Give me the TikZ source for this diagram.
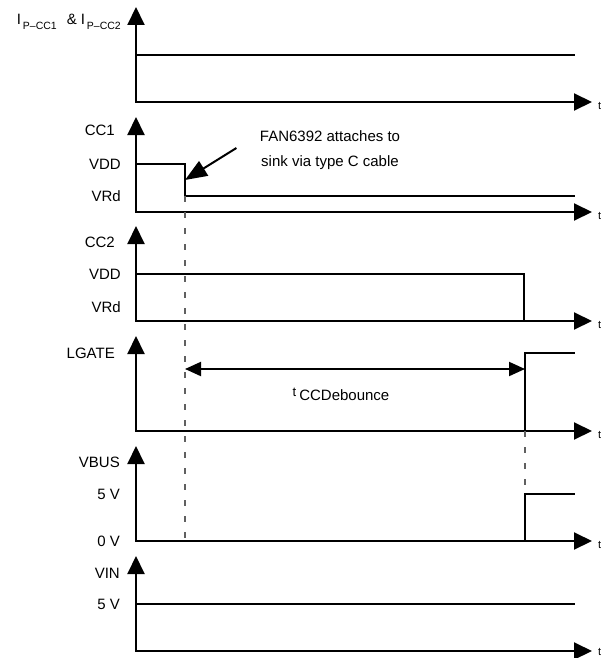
\documentclass[tikz,border=0pt]{standalone}
\usepackage{fontspec}
\setmainfont{Liberation Sans}
\usetikzlibrary{arrows.meta,calc}
\newcommand{\lowtxt}[1]{\raisebox{-5pt}{\fontsize{10.5}{10.5}\selectfont #1}}

\begin{document}
\begin{tikzpicture}[
        x=1pt, y=-1pt,
        font=\fontsize{15}{18}\selectfont,
        axis/.style={line width=2pt, {Triangle[length=18pt,width=17pt]}-{Triangle[length=18pt,width=17pt]}},
        wave/.style={line width=2pt},
        guide/.style={line width=1.5pt, gray!75!black, dash pattern=on 6pt off 10pt},
        lbl/.style={anchor=east, inner sep=0pt},
        tlbl/.style={anchor=west, inner sep=0pt, font=\fontsize{11}{12}\selectfont},
        pointer/.style={line width=2pt, -{Triangle[length=22pt,width=17pt]}},
        span/.style={line width=2pt, {Triangle[length=16pt,width=14pt]}-{Triangle[length=16pt,width=14pt]}}
    ]
        \useasboundingbox (0,0) rectangle (608,658);

        % Axes: top tip, origin, right tip
        \coordinate (y1) at (136,7);   \coordinate (o1) at (136,102); \coordinate (t1) at (592,102);
        \coordinate (y2) at (136,117); \coordinate (o2) at (136,212); \coordinate (t2) at (592,212);
        \coordinate (y3) at (136,226); \coordinate (o3) at (136,321); \coordinate (t3) at (592,321);
        \coordinate (y4) at (136,336); \coordinate (o4) at (136,431); \coordinate (t4) at (592,431);
        \coordinate (y5) at (136,446); \coordinate (o5) at (136,541); \coordinate (t5) at (592,541);
        \coordinate (y6) at (136,556); \coordinate (o6) at (136,651); \coordinate (t6) at (592,651);

        \draw[axis] (y1) -- (o1) -- (t1);
        \draw[axis] (y2) -- (o2) -- (t2);
        \draw[axis] (y3) -- (o3) -- (t3);
        \draw[axis] (y4) -- (o4) -- (t4);
        \draw[axis] (y5) -- (o5) -- (t5);
        \draw[axis] (y6) -- (o6) -- (t6);

        % Time labels
        \node[tlbl] at ([shift={(6,4)}]t1) {t};
        \node[tlbl] at ([shift={(6,4)}]t2) {t};
        \node[tlbl] at ([shift={(6,4)}]t3) {t};
        \node[tlbl] at ([shift={(6,4)}]t4) {t};
        \node[tlbl] at ([shift={(6,4)}]t5) {t};
        \node[tlbl] at ([shift={(6,1)}]t6) {t};

        % Edges
        \coordinate (attach) at (185,196);
        \coordinate (rise) at (525,431);

        % Waveforms
        \draw[wave] (136,55) -- (575,55);
        \draw[wave] (136,164) -- (attach |- 0,164) -- (attach) -- (575,196);
        \draw[wave] (136,274) -- (524,274) -- (524,321);
        \draw[wave] (rise) -- (rise |- 0,353) -- (575,353);
        \draw[wave] (rise |- o5) -- (rise |- 0,494) -- (575,494);
        \draw[wave] (136,604) -- (575,604);

        % Dashed guides
        \draw[guide] (attach) -- (attach |- o5);
        \draw[guide] (rise) -- (rise |- 0,494);

        % Signal names and levels
        \node[lbl] (ipcc) at (121,22) {I\kern2pt\lowtxt{P–CC1}\hspace{10pt}\&\hspace{4pt}I\kern2pt\lowtxt{P–CC2}};
        \node[lbl] (cc1) at (115,130) {CC1};
        \node[lbl] (cc1hi) at (121,164) {VDD};
        \node[lbl] (cc1lo) at (121,196) {VRd};
        \node[lbl] (cc2) at (115,242) {CC2};
        \node[lbl] (cc2hi) at (121,274) {VDD};
        \node[lbl] (cc2lo) at (121,307) {VRd};
        \node[lbl] (lgate) at (115,353) {LGATE};
        \node[lbl] (vbus) at (120,462) {VBUS};
        \node[lbl] (vbushi) at (120,494) {5 V};
        \node[lbl] (vbuslo) at (120,541) {0 V};
        \node[lbl] (vin) at (120,573) {VIN};
        \node[lbl] (vinhi) at (120,604) {5 V};

        % Annotation
        \node[align=center, font=\fontsize{15}{25}\selectfont] (note) at (330,150) {FAN6392 attaches to\\sink via type C cable};
        \coordinate (edge) at (185,180);
        \draw[pointer] ([shift={(-20,-2)}]note.west) -- (edge);

        % Debounce time
        \coordinate (sL) at (attach |- 0,369);
        \coordinate (sR) at (rise |- 0,369);
        \draw[span] (sL) -- (sR);
        \node (tdeb) at (341,394) {\raisebox{4pt}{\fontsize{13}{13}\selectfont t}\kern3pt CCDebounce};

    \end{tikzpicture}
\end{document}
